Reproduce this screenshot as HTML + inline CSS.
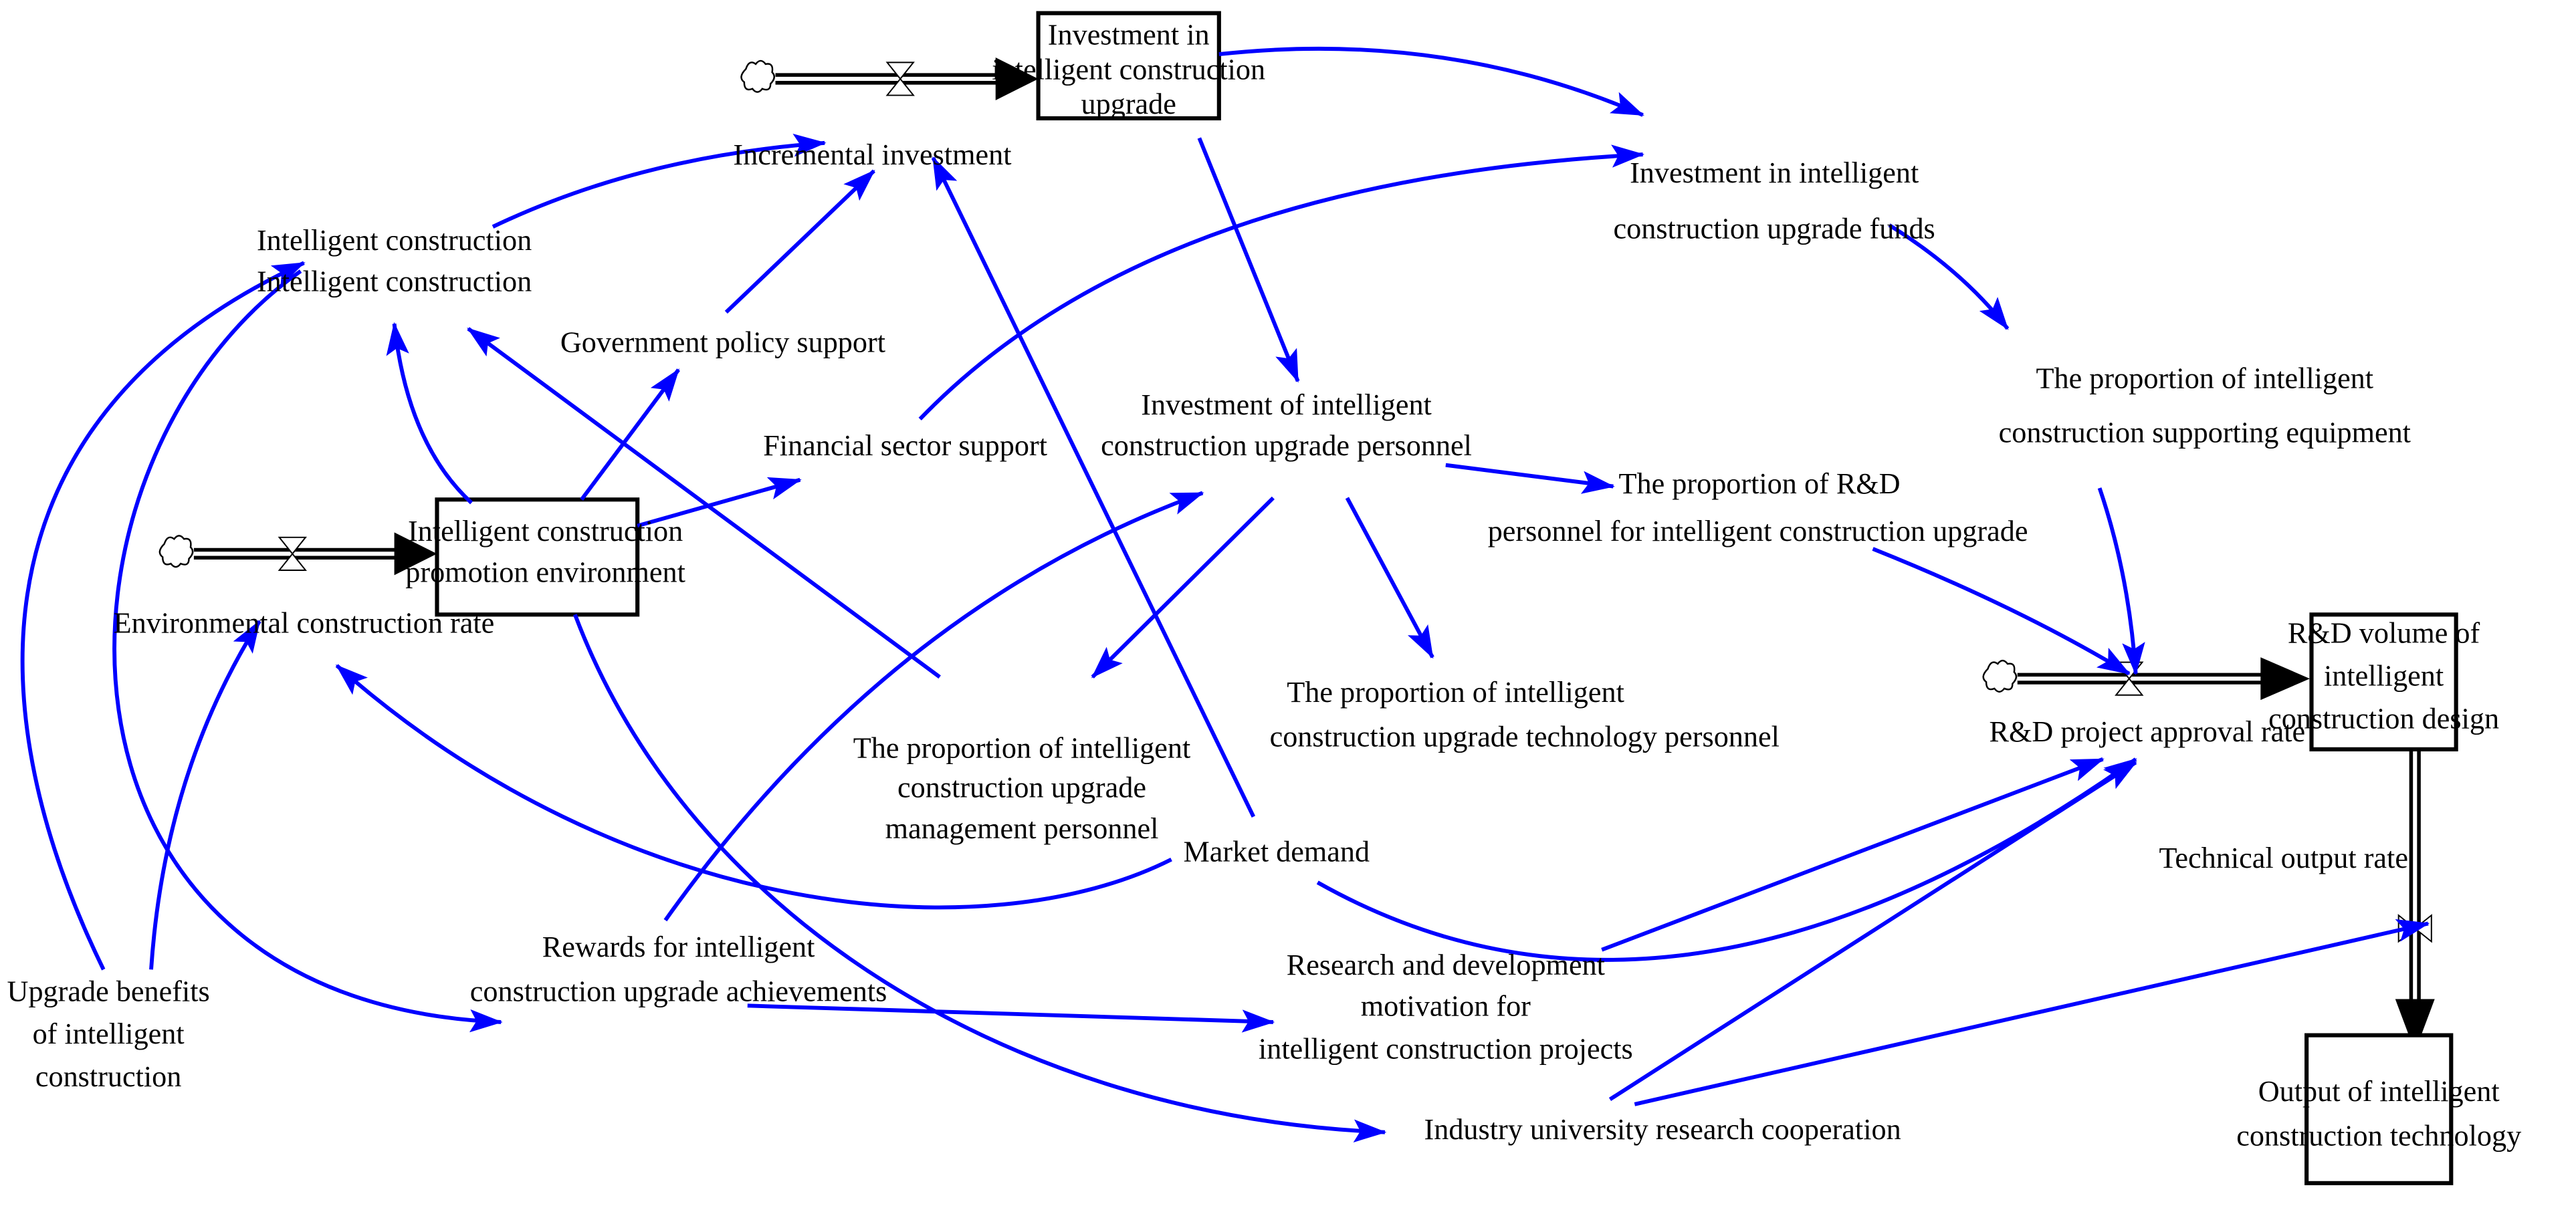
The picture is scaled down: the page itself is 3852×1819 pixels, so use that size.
<!DOCTYPE html>
<html><head><meta charset="utf-8"><style>
html,body{margin:0;padding:0;background:#fff;}
svg{display:block;}
text{font-family:"Liberation Serif",serif;font-size:18px;fill:#000;text-anchor:middle;dominant-baseline:middle;}
.a{fill:none;stroke:#0000ff;stroke-width:2.4;marker-end:url(#h);}
</style></head><body>
<svg width="3852" height="1819" viewBox="0 0 1568 740" preserveAspectRatio="none" xmlns="http://www.w3.org/2000/svg">
<defs>
<marker id="h" markerWidth="20" markerHeight="14" refX="19" refY="7" orient="auto" markerUnits="userSpaceOnUse">
<path d="M0,0 L20,7 L0,14 L4,7 Z" fill="#0000ff"/></marker>
<g id="cloud"><path d="M-8,-6 q2,-6 6,-3 q3,-4 6,0 q5,-1 4,5 q3,3 -1,7 q0,5 -5,3 q-3,4 -6,0 q-5,2 -5,-4 q-4,-3 1,-8z" fill="#fff" stroke="#000" stroke-width="1"/></g>
</defs>

<g>
<line x1="472" y1="48" x2="612" y2="48" stroke="#000" stroke-width="7"/>
<line x1="472" y1="48" x2="612" y2="48" stroke="#fff" stroke-width="2.5"/>
<path d="M606,35 L632,48 L606,61Z" fill="#000"/>
<use href="#cloud" x="462" y="48"/>
<path d="M540,38 L556,38 L540,58 L556,58Z" fill="#fff" stroke="#000" stroke-width="0.8"/>

<line x1="118" y1="337" x2="248" y2="337" stroke="#000" stroke-width="7"/>
<line x1="118" y1="337" x2="248" y2="337" stroke="#fff" stroke-width="2.5"/>
<path d="M240,324 L266,337 L240,350Z" fill="#000"/>
<use href="#cloud" x="108" y="337"/>
<path d="M170,327 L186,327 L170,347 L186,347Z" fill="#fff" stroke="#000" stroke-width="0.8"/>

<line x1="1228" y1="413" x2="1384" y2="413" stroke="#000" stroke-width="7"/>
<line x1="1228" y1="413" x2="1384" y2="413" stroke="#fff" stroke-width="2.5"/>
<path d="M1376,400 L1406,413 L1376,426Z" fill="#000"/>
<use href="#cloud" x="1218" y="413"/>
<path d="M1288,403 L1304,403 L1288,423 L1304,423Z" fill="#fff" stroke="#000" stroke-width="0.8"/>

<line x1="1470" y1="456" x2="1470" y2="616" stroke="#000" stroke-width="7"/>
<line x1="1470" y1="456" x2="1470" y2="616" stroke="#fff" stroke-width="2.5"/>
<path d="M1458,608 L1470,640 L1482,608Z" fill="#000"/>
<path d="M1460,557 L1460,573 L1480,557 L1480,573Z" fill="#fff" stroke="#000" stroke-width="0.8"/>
</g>

<g fill="#fff" stroke="#000" stroke-width="2.5">
<rect x="632" y="8" width="110" height="64"/>
<rect x="266" y="304" width="122" height="70"/>
<rect x="1407" y="374" width="88" height="82"/>
<rect x="1404" y="630" width="88" height="90"/>
</g>

<path class="a" d="M300,138 Q390,95 502,87"/>
<path class="a" d="M442,190 L532,104"/>
<path class="a" d="M763,497 L568,96"/>
<path class="a" d="M730,84 L790,232"/>
<path class="a" d="M742,33 Q880,18 1000,70"/>
<path class="a" d="M560,255 Q700,110 1000,94"/>
<path class="a" d="M1150,137 Q1195,165 1222,200"/>
<path class="a" d="M1278,297 Q1296,350 1300,410"/>
<path class="a" d="M1140,334 Q1230,370 1296,410"/>
<path class="a" d="M880,283 L982,296"/>
<path class="a" d="M775,303 L665,412"/>
<path class="a" d="M820,303 L872,400"/>
<path class="a" d="M405,560 Q540,370 732,300"/>
<path class="a" d="M287,306 Q248,270 240,197"/>
<path class="a" d="M354,304 L413,225"/>
<path class="a" d="M388,320 L487,292"/>
<path class="a" d="M572,412 L285,200"/>
<path class="a" d="M713,523 C600,580 380,560 205,405"/>
<path class="a" d="M63,590 C-20,420 -10,250 185,160"/>
<path class="a" d="M92,590 Q100,470 158,378"/>
<path class="a" d="M183,165 C20,280 10,610 305,622"/>
<path class="a" d="M350,374 C420,560 620,680 843,689"/>
<path class="a" d="M455,612 L775,622"/>
<path class="a" d="M802,537 Q1020,660 1300,462"/>
<path class="a" d="M975,578 L1280,462"/>
<path class="a" d="M980,669 L1300,464"/>
<path class="a" d="M995,672 L1478,562"/>

<text x="687" y="23">Investment in</text>
<text x="687" y="44">intelligent construction</text>
<text x="687" y="65">upgrade</text>
<text x="332" y="325">Intelligent construction</text>
<text x="332" y="350">promotion environment</text>
<text x="1451" y="387">R&amp;D volume of</text>
<text x="1451" y="413">intelligent</text>
<text x="1451" y="439">construction design</text>
<text x="1448" y="666">Output of intelligent</text>
<text x="1448" y="693">construction technology</text>

<text x="531" y="96">Incremental investment</text>
<text x="240" y="148">Intelligent construction</text>
<text x="240" y="173">Intelligent construction</text>
<text x="440" y="210">Government policy support</text>
<text x="551" y="273">Financial sector support</text>
<text x="185" y="381">Environmental construction rate</text>
<text x="1080" y="107">Investment in intelligent</text>
<text x="1080" y="141">construction upgrade funds</text>
<text x="783" y="248">Investment of intelligent</text>
<text x="783" y="273">construction upgrade personnel</text>
<text x="1342" y="232">The proportion of intelligent</text>
<text x="1342" y="265">construction supporting equipment</text>
<text x="1071" y="296">The proportion of R&amp;D</text>
<text x="1070" y="325">personnel for intelligent construction upgrade</text>
<text x="886" y="423">The proportion of intelligent</text>
<text x="928" y="450">construction upgrade technology personnel</text>
<text x="622" y="457">The proportion of intelligent</text>
<text x="622" y="481">construction upgrade</text>
<text x="622" y="506">management personnel</text>
<text x="777" y="520">Market demand</text>
<text x="1307" y="447">R&amp;D project approval rate</text>
<text x="1390" y="524">Technical output rate</text>
<text x="880" y="589">Research and development</text>
<text x="880" y="614">motivation for</text>
<text x="880" y="640">intelligent construction projects</text>
<text x="413" y="578">Rewards for intelligent</text>
<text x="413" y="605">construction upgrade achievements</text>
<text x="66" y="605">Upgrade benefits</text>
<text x="66" y="631">of intelligent</text>
<text x="66" y="657">construction</text>
<text x="1012" y="689">Industry university research cooperation</text>
</svg>
</body></html>
